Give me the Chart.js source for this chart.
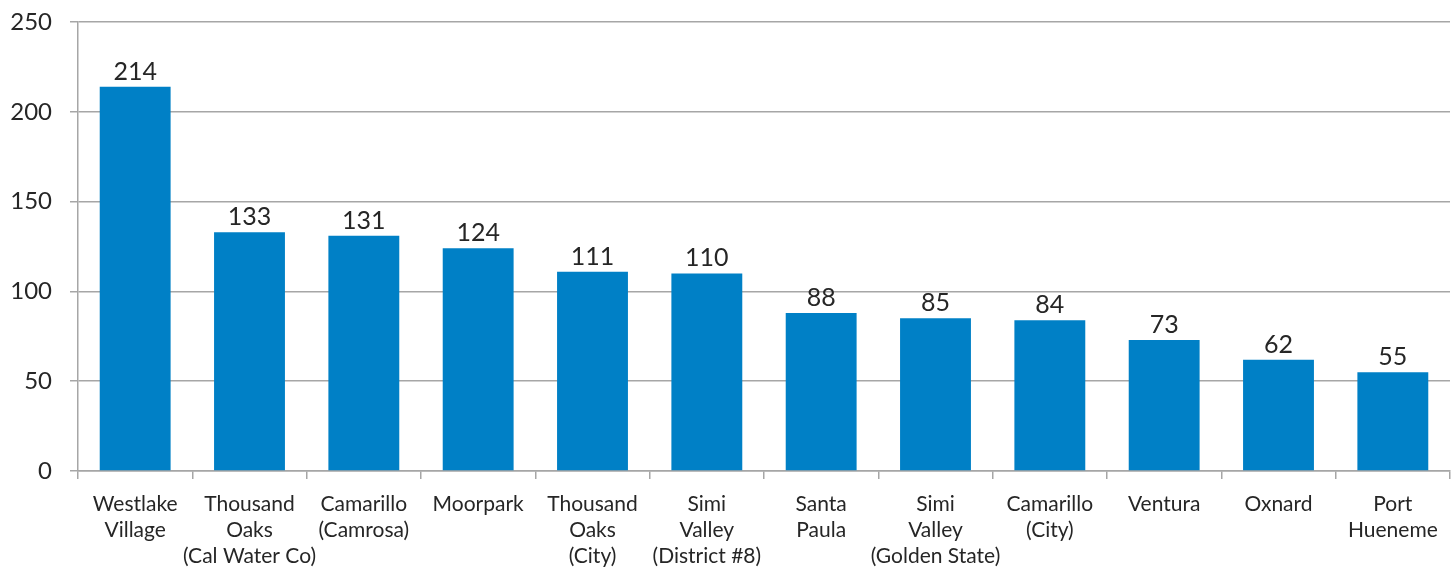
<!DOCTYPE html>
<html>
<head>
<meta charset="utf-8">
<script src="https://cdn.jsdelivr.net/npm/chart.js@4/dist/chart.umd.min.js"></script>
<style>
  html, body { margin: 0; padding: 0; background: #fff; }
  #wrap { width: 1455px; height: 568px; }
</style>
</head>
<body>
<div id="wrap"><canvas id="out"></canvas></div>
<script>
const categories = [
  ["Westlake", "Village"],
  ["Thousand", "Oaks", "(Cal Water Co)"],
  ["Camarillo", "(Camrosa)"],
  ["Moorpark"],
  ["Thousand", "Oaks", "(City)"],
  ["Simi", "Valley", "(District #8)"],
  ["Santa", "Paula"],
  ["Simi", "Valley", "(Golden State)"],
  ["Camarillo", "(City)"],
  ["Ventura"],
  ["Oxnard"],
  ["Port", "Hueneme"]
];
const values = [214, 133, 131, 124, 111, 110, 88, 85, 84, 73, 62, 55];
const yTicks = [0, 50, 100, 150, 200, 250];

const fontFamily = "Lato, 'Open Sans', sans-serif";
const gridColor = "#a6a6a6";
const textColor = "#262626";

// draws the number above each bar
const valueLabels = {
  id: "valueLabels",
  afterDatasetsDraw(chart) {
    const ctx = chart.ctx;
    const meta = chart.getDatasetMeta(0);
    ctx.save();
    ctx.font = "25px " + fontFamily;
    ctx.fillStyle = textColor;
    ctx.textAlign = "center";
    ctx.textBaseline = "alphabetic";
    meta.data.forEach(function(bar, i) {
      ctx.fillText(String(values[i]), bar.x, bar.y - 7);
    });
    ctx.restore();
  }
};

const canvasCtx = document.getElementById("out").getContext("2d");
const chartConfig = {
  type: "bar",
  data: {
    labels: categories,
    datasets: [
      {
        data: values,
        backgroundColor: "#0080c6",
        borderWidth: 0,
        categoryPercentage: 1,
        barPercentage: 0.62
      }
    ]
  },
  options: {
    responsive: true,
    maintainAspectRatio: false,
    animation: false,
    layout: { padding: { top: 22, right: 5, left: 0, bottom: 0 } },
    plugins: {
      legend: { display: false },
      tooltip: { enabled: false }
    },
    scales: {
      x: {
        grid: {
          drawOnChartArea: false,
          drawTicks: true,
          tickLength: 8,
          color: gridColor,
          lineWidth: 1.5
        },
        border: { color: gridColor, width: 1.5 },
        ticks: {
          color: textColor,
          font: { family: fontFamily, size: 21, lineHeight: 1.25 },
          padding: 12,
          maxRotation: 0,
          autoSkip: false
        },
        afterFit(scale) {
          scale.height = 97;
          scale.paddingLeft = 0;
          scale.paddingRight = 0;
        }
      },
      y: {
        min: 0,
        max: 250,
        afterBuildTicks(scale) {
          scale.ticks = yTicks.map(function(v) { return { value: v }; });
        },
        grid: {
          color: gridColor,
          lineWidth: 1.5,
          tickLength: 8
        },
        border: { color: gridColor, width: 1.5 },
        ticks: {
          color: textColor,
          font: { family: fontFamily, size: 24 },
          padding: 18
        },
        afterFit(scale) {
          scale.width = 78;
          scale.paddingTop = 0;
          scale.paddingBottom = 0;
        }
      }
    }
  },
  plugins: [valueLabels]
};

window.chart = new Chart(canvasCtx, chartConfig);
</script>
</body>
</html>
